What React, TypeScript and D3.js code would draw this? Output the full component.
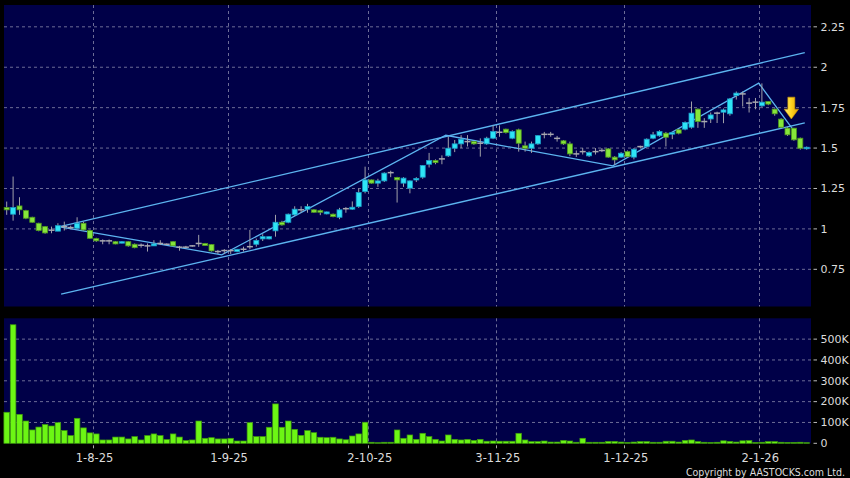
import React from "react";
import * as d3 from "d3";

// ---- trading days (categories) ----
const JUL25 = [14, 15, 16, 17, 18, 21, 22, 23, 24, 25, 28, 29, 30, 31];
const AUG25 = [1, 4, 5, 6, 7, 8, 11, 12, 13, 14, 15, 18, 19, 20, 21, 22, 25, 26, 27, 28, 29];
const SEP25 = [1, 2, 3, 4, 5, 8, 9, 10, 11, 12, 15, 16, 17, 18, 19, 22, 23, 24, 25, 26, 29, 30];
const OCT25 = [2, 3, 6, 8, 9, 10, 13, 14, 15, 16, 17, 20, 21, 22, 23, 24, 27, 28, 30, 31];
const NOV25 = [3, 4, 5, 6, 7, 10, 11, 12, 13, 14, 17, 18, 19, 20, 21, 24, 25, 26, 27, 28];
const DEC25 = [1, 2, 3, 4, 5, 8, 9, 10, 11, 12, 15, 16, 17, 18, 19, 22, 23, 24, 29, 30, 31];
const JAN26 = [2, 5, 6, 7, 8, 9, 12, 13];

const MONTHS: [number[], string][] = [
  [JUL25, "7-25"], [AUG25, "8-25"], [SEP25, "9-25"], [OCT25, "10-25"],
  [NOV25, "11-25"], [DEC25, "12-25"], [JAN26, "1-26"],
];
const dates: string[] = MONTHS.flatMap(([days, m]) => days.map((d) => `${d}-${m}`));

// ---- OHLC ----
const open = [
  1.132, 1.091, 1.142, 1.113, 1.072, 1.035, 1.014, 0.992, 0.986, 1.014,
  1.008, 1.004, 1.035, 0.99, 0.94, 0.926, 0.926, 0.921, 0.915, 0.921,
  0.905, 0.899, 0.895, 0.895, 0.91, 0.905, 0.921, 0.887, 0.887, 0.895,
  0.91, 0.91, 0.903, 0.86, 0.866, 0.866, 0.86, 0.874, 0.89, 0.905,
  0.938, 0.938, 0.988, 1.041, 1.041, 1.087, 1.118, 1.122, 1.118, 1.113,
  1.093, 1.091, 1.072, 1.125, 1.122, 1.138, 1.231, 1.303, 1.283, 1.297,
  1.348, 1.318, 1.283, 1.252, 1.303, 1.32, 1.40, 1.423, 1.433, 1.452,
  1.499, 1.526, 1.54, 1.54, 1.53, 1.526, 1.561, 1.598, 1.617, 1.561,
  1.613, 1.514, 1.499, 1.526, 1.585, 1.585, 1.56, 1.545, 1.526, 1.464,
  1.478, 1.452, 1.478, 1.485, 1.495, 1.444, 1.444, 1.478, 1.444, 1.509,
  1.509, 1.561, 1.576, 1.592, 1.586, 1.613, 1.617, 1.629, 1.741, 1.664,
  1.68, 1.716, 1.722, 1.712, 1.825, 1.835, 1.778, 1.784, 1.761, 1.788,
  1.741, 1.679, 1.623, 1.623, 1.561, 1.50,
];
const close = [
  1.118, 1.132, 1.118, 1.066, 1.041, 0.99, 0.975, 0.992, 1.02, 1.014,
  1.008, 1.035, 0.994, 0.942, 0.926, 0.926, 0.926, 0.907, 0.921, 0.895,
  0.884, 0.899, 0.895, 0.907, 0.91, 0.905, 0.895, 0.887, 0.887, 0.895,
  0.91, 0.897, 0.864, 0.86, 0.866, 0.866, 0.874, 0.874, 0.89, 0.928,
  0.952, 0.952, 1.041, 1.025, 1.091, 1.122, 1.118, 1.138, 1.103, 1.103,
  1.105, 1.076, 1.118, 1.125, 1.134, 1.225, 1.303, 1.283, 1.297, 1.345,
  1.348, 1.303, 1.314, 1.297, 1.312, 1.392, 1.423, 1.41, 1.433, 1.499,
  1.526, 1.555, 1.54, 1.526, 1.53, 1.561, 1.602, 1.598, 1.596, 1.602,
  1.53, 1.499, 1.526, 1.577, 1.585, 1.585, 1.56, 1.526, 1.464, 1.464,
  1.478, 1.472, 1.478, 1.485, 1.444, 1.427, 1.468, 1.447, 1.493, 1.509,
  1.555, 1.582, 1.602, 1.567, 1.596, 1.592, 1.658, 1.716, 1.664, 1.664,
  1.705, 1.716, 1.736, 1.804, 1.84, 1.835, 1.778, 1.784, 1.784, 1.772,
  1.712, 1.629, 1.582, 1.551, 1.499, 1.505,
];
const high = [
  1.169, 1.324, 1.196, 1.118, 1.075, 1.038, 1.018, 1.014, 1.035, 1.045,
  1.02, 1.072, 1.045, 0.995, 0.945, 0.935, 0.935, 0.925, 0.925, 0.925,
  0.91, 0.91, 0.91, 0.93, 0.93, 0.91, 0.925, 0.895, 0.895, 0.90,
  0.963, 0.913, 0.905, 0.87, 0.875, 0.875, 0.876, 0.89, 0.994, 0.94,
  0.967, 0.955, 1.087, 1.05, 1.095, 1.14, 1.14, 1.155, 1.122, 1.12,
  1.107, 1.095, 1.13, 1.135, 1.17, 1.25, 1.385, 1.305, 1.31, 1.35,
  1.36, 1.322, 1.32, 1.30, 1.32, 1.395, 1.47, 1.43, 1.455, 1.571,
  1.55, 1.58, 1.58, 1.545, 1.56, 1.57, 1.64, 1.64, 1.62, 1.61,
  1.62, 1.54, 1.54, 1.58, 1.60, 1.60, 1.575, 1.55, 1.54, 1.485,
  1.50, 1.48, 1.50, 1.50, 1.50, 1.45, 1.475, 1.485, 1.50, 1.515,
  1.56, 1.60, 1.61, 1.60, 1.60, 1.62, 1.665, 1.788, 1.745, 1.685,
  1.72, 1.725, 1.745, 1.81, 1.85, 1.85, 1.81, 1.81, 1.90, 1.79,
  1.745, 1.685, 1.63, 1.625, 1.565, 1.51,
];
const low = [
  1.087, 1.051, 1.087, 1.06, 1.038, 0.985, 0.97, 0.973, 0.986, 0.99,
  1.0, 1.0, 0.99, 0.94, 0.92, 0.905, 0.905, 0.905, 0.91, 0.89,
  0.88, 0.884, 0.86, 0.895, 0.9, 0.9, 0.893, 0.865, 0.88, 0.89,
  0.889, 0.895, 0.86, 0.845, 0.845, 0.845, 0.855, 0.86, 0.874, 0.89,
  0.925, 0.935, 0.952, 1.02, 1.035, 1.08, 1.10, 1.10, 1.10, 1.085,
  1.09, 1.072, 1.06, 1.10, 1.118, 1.13, 1.22, 1.28, 1.26, 1.29,
  1.32, 1.163, 1.26, 1.22, 1.29, 1.31, 1.38, 1.40, 1.40, 1.445,
  1.475, 1.50, 1.51, 1.52, 1.447, 1.52, 1.555, 1.57, 1.59, 1.555,
  1.478, 1.478, 1.47, 1.52, 1.56, 1.57, 1.54, 1.52, 1.45, 1.445,
  1.46, 1.445, 1.46, 1.475, 1.44, 1.396, 1.44, 1.44, 1.43, 1.50,
  1.505, 1.555, 1.57, 1.51, 1.555, 1.585, 1.61, 1.62, 1.625, 1.625,
  1.655, 1.655, 1.654, 1.70, 1.80, 1.757, 1.72, 1.74, 1.755, 1.765,
  1.70, 1.62, 1.575, 1.545, 1.49, 1.49,
];
// volume in thousands
const volume = [
  149, 569, 139, 107, 64, 78, 90, 83, 99, 61,
  37, 120, 74, 50, 45, 16, 16, 30, 30, 21,
  32, 16, 37, 45, 37, 18, 45, 30, 13, 16,
  107, 24, 27, 21, 21, 24, 11, 11, 99, 32,
  32, 77, 189, 77, 107, 67, 38, 61, 51, 29,
  27, 29, 21, 17, 35, 45, 101, 5, 3, 5,
  5, 64, 24, 40, 19, 48, 32, 19, 11, 40,
  19, 16, 19, 14, 19, 10, 11, 10, 10, 10,
  48, 16, 8, 8, 11, 6, 6, 14, 11, 5,
  24, 5, 5, 5, 9, 9, 6, 4, 6, 8,
  8, 5, 5, 10, 10, 6, 14, 16, 8, 5,
  4, 5, 12, 9, 6, 12, 13, 4, 5, 8,
  8, 5, 4, 4, 5, 3,
];

// ---- axis ticks ----
const priceTicks = [0.75, 1, 1.25, 1.5, 1.75, 2, 2.25];
const priceTickLabels = ["0.75", "1", "1.25", "1.5", "1.75", "2", "2.25"];
const volTicks = [0, 100, 200, 300, 400, 500];
const volTickLabels = ["0", "100K", "200K", "300K", "400K", "500K"];
const dateTickDates = ["1-8-25", "1-9-25", "2-10-25", "3-11-25", "1-12-25", "2-1-26"];
const dateTickLabels = ["1-8-25", "1-9-25", "2-10-25", "3-11-25", "1-12-25", "2-1-26"];

// ---- trend lines: [candle index, price] ----
const upperChannel = [[8.3, 1.014], [124.7, 2.09]];
const lowerChannel = [[8.5, 0.596], [124.7, 1.656]];
const zigzag = [[8.3, 1.012], [33.6, 0.839], [68.6, 1.579], [94.7, 1.39], [117.5, 1.902], [122.9, 1.613]];
const arrowAnchor = [122.6, 1.815, 1.68]; // index, top price, tip price

const W = 850;
const H = 478;
const LEFT = 4;
const RIGHT = 811;
const P_TOP = 5;
const P_BOT = 306.5;
const V_TOP = 318.3;
const V_BOT = 443.3;

export default function App() {
  const n = dates.length;
  const xBand = d3.scaleBand<string>().domain(dates).range([3.5, 3.5 + 6.4 * n]).padding(0);
  const step = xBand.step();
  const cx = (i: number) => (xBand(dates[i]) as number) + step / 2;
  const xIdx = d3.scaleLinear().domain([0, n - 1]).range([cx(0), cx(n - 1)]);
  const yP = d3.scaleLinear().domain([0.52, 2.385]).range([P_BOT, P_TOP]);
  const yV = d3.scaleLinear().domain([0, 600]).range([V_BOT, V_TOP]);
  const bw = 5;

  const lineGen = d3
    .line<number[]>()
    .x((d) => xIdx(d[0]))
    .y((d) => yP(d[1]));

  const gridColor = "#6c6c96";
  const textColor = "#dcdcdc";
  const font = "'DejaVu Sans', sans-serif";

  const ax = xIdx(arrowAnchor[0]);
  const aTop = yP(arrowAnchor[1]);
  const aTip = yP(arrowAnchor[2]);
  const aMid = aTop + (aTip - aTop) * 0.55;
  const arrowPath = `M${ax - 3.5},${aTop} L${ax + 3.5},${aTop} L${ax + 3.5},${aMid} L${ax + 7.2},${aMid} L${ax},${aTip} L${ax - 7.2},${aMid} L${ax - 3.5},${aMid} Z`;

  return (
    <svg
      width={W}
      height={H}
      style={{ position: "absolute", left: 0, top: 0, display: "block", background: "#000" }}
    >
      <defs>
        <linearGradient id="arrowGrad" x1="0" x2="1" y1="0" y2="0">
          <stop offset="0" stopColor="#fff27a" />
          <stop offset="0.5" stopColor="#ffd21f" />
          <stop offset="1" stopColor="#e0a000" />
        </linearGradient>
        <clipPath id="pclip">
          <rect x={LEFT} y={P_TOP} width={RIGHT - LEFT} height={P_BOT - P_TOP} />
        </clipPath>
      </defs>
      <rect x={0} y={0} width={W} height={H} fill="#000" />
      <rect x={LEFT} y={P_TOP} width={RIGHT - LEFT} height={P_BOT - P_TOP} fill="#000048" />
      <rect x={LEFT} y={V_TOP} width={RIGHT - LEFT} height={V_BOT - V_TOP} fill="#000048" />

      {/* price grid */}
      {priceTicks.map((t) => (
        <line key={"pg" + t} x1={LEFT} x2={RIGHT} y1={yP(t)} y2={yP(t)} stroke={gridColor} strokeDasharray="3,3" strokeWidth={1} />
      ))}
      {volTicks.filter((t) => t > 0).map((t) => (
        <line key={"vg" + t} x1={LEFT} x2={RIGHT} y1={yV(t)} y2={yV(t)} stroke={gridColor} strokeDasharray="3,3" strokeWidth={1} />
      ))}
      {dateTickDates.map((d) => {
        const x = Math.round(xBand(d) as number) + 0.5;
        return (
          <g key={"dg" + d}>
            <line x1={x} x2={x} y1={P_TOP} y2={P_BOT} stroke={gridColor} strokeDasharray="3,3" />
            <line x1={x} x2={x} y1={V_TOP} y2={V_BOT} stroke={gridColor} strokeDasharray="3,3" />
            <line x1={x} x2={x} y1={V_BOT + 2} y2={V_BOT + 5} stroke="#aaa" />
          </g>
        );
      })}

      {/* trend lines */}
      <g clipPath="url(#pclip)" fill="none" stroke="#5cb4f0" strokeWidth={1.3}>
        <path d={lineGen(upperChannel) as string} />
        <path d={lineGen(lowerChannel) as string} />
        <path d={lineGen(zigzag) as string} />
      </g>

      {/* candles */}
      <g>
        {dates.map((d, i) => {
          const x = cx(i);
          const o = open[i];
          const c = close[i];
          const up = c > o;
          const doji = c === o;
          const yTop = yP(Math.max(o, c));
          const yBot = yP(Math.min(o, c));
          return (
            <g key={"c" + i}>
              <line x1={x} x2={x} y1={yP(high[i])} y2={yP(low[i])} stroke="#a0a0a8" strokeWidth={1} />
              {doji ? (
                <line x1={x - bw / 2 - 0.5} x2={x + bw / 2 + 0.5} y1={yTop} y2={yTop} stroke="#a8a8b0" strokeWidth={1.5} />
              ) : (
                <rect
                  x={x - bw / 2}
                  y={yTop}
                  width={bw}
                  height={Math.max(1.5, yBot - yTop)}
                  fill={up ? "#2ee4f6" : "#86e63a"}
                  stroke={up ? "#1a9cc8" : "#4f9a1e"}
                  strokeWidth={0.8}
                />
              )}
            </g>
          );
        })}
      </g>

      {/* arrow */}
      <path d={arrowPath} fill="url(#arrowGrad)" stroke="#c89000" strokeWidth={0.6} />

      {/* volume bars */}
      <g>
        {volume.map((v, i) => (
          <rect
            key={"v" + i}
            x={cx(i) - bw / 2 - 0.3}
            y={yV(v)}
            width={bw + 0.6}
            height={V_BOT - yV(v)}
            fill="#6cf614"
            stroke="#3e9a0c"
            strokeWidth={0.7}
          />
        ))}
      </g>

      {/* axis labels */}
      <g fontFamily={font} fontSize={11} fill={textColor}>
        {priceTicks.map((t, k) => (
          <g key={"pl" + t}>
            <line x1={813.5} x2={817} y1={yP(t)} y2={yP(t)} stroke="#bbb" />
            <text x={820.5} y={yP(t)} dy="0.35em">{priceTickLabels[k]}</text>
          </g>
        ))}
        {volTicks.map((t, k) => (
          <g key={"vl" + t}>
            <line x1={813.5} x2={817} y1={yV(t)} y2={yV(t)} stroke="#bbb" />
            <text x={820.5} y={yV(t)} dy="0.35em">{volTickLabels[k]}</text>
          </g>
        ))}
        {dateTickDates.map((d, k) => (
          <text key={"dl" + d} x={(xBand(d) as number) + 1.5} y={462} textAnchor="middle" fontSize={11.5}>
            {dateTickLabels[k]}
          </text>
        ))}
        <text x={845} y={475.5} textAnchor="end" fontSize={10.5} fontFamily="'DejaVu Sans Condensed', 'DejaVu Sans', sans-serif">
          Copyright by AASTOCKS.com Ltd.
        </text>
      </g>
    </svg>
  );
}
